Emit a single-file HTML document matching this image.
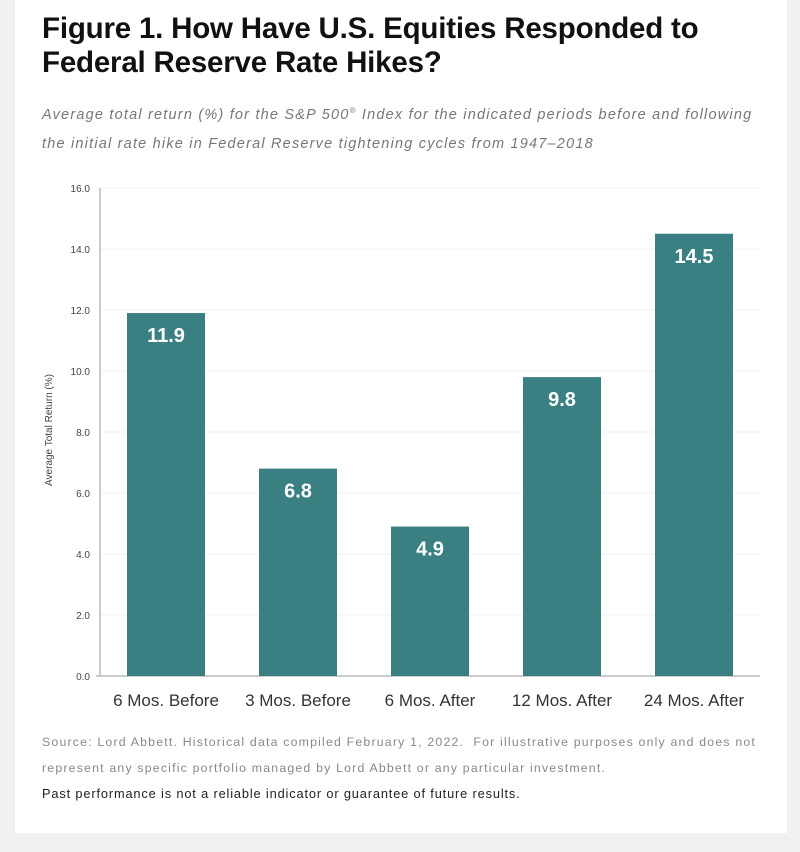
<!DOCTYPE html>
<html><head><meta charset="utf-8"><style>
body{margin:0;width:800px;height:852px;background:#f1f1f1;font-family:"Liberation Sans",sans-serif;overflow:hidden}
#card{position:absolute;left:15px;top:0;width:772px;height:833px;background:#fff}
h1{position:absolute;left:27px;top:12px;margin:0;font-size:29.5px;line-height:34px;font-weight:bold;color:#111;letter-spacing:-0.2px;white-space:nowrap}
.sub{position:absolute;left:27px;top:96px;font-size:14.5px;line-height:29px;font-style:italic;color:#777;width:745px;letter-spacing:1.2px;white-space:nowrap}
.src{position:absolute;left:27px;top:729px;font-size:12.3px;line-height:26px;color:#888;letter-spacing:1.2px;white-space:nowrap}
.src b{font-weight:normal;color:#222;font-size:12.8px;letter-spacing:0.85px}
</style></head><body>
<div id="card">
<h1>Figure 1. How Have U.S. Equities Responded to<br>Federal Reserve Rate Hikes?</h1>
<div class="sub">Average total return (%) for the S&amp;P 500<sup style="font-size:8px">®</sup> Index for the indicated periods before and following<br>the initial rate hike in Federal Reserve tightening cycles from 1947–2018</div>
<div class="src">Source: Lord Abbett. Historical data compiled February 1, 2022.&nbsp; For illustrative purposes only and does not<br>represent any specific portfolio managed by Lord Abbett or any particular investment.<br><b>Past performance is not a reliable indicator or guarantee of future results.</b></div>
</div>
<svg id="chart" width="800" height="852" style="position:absolute;left:0;top:0"></svg>
<script>
const categories=["6 Mos. Before","3 Mos. Before","6 Mos. After","12 Mos. After","24 Mos. After"];
const values=[11.9,6.8,4.9,9.8,14.5];
const ticks=[0,2,4,6,8,10,12,14,16];
const svg=document.getElementById('chart');const NS='http://www.w3.org/2000/svg';
const y0=676,y1=188,vmax=16,x0=100,x1=760;
const y=v=>y0-(v/vmax)*(y0-y1);
const band=(x1-x0)/categories.length, bw=78;
const xc=i=>x0+band*(i+0.5);
function mk(t,a,txt){const e=document.createElementNS(NS,t);for(const k in a)e.setAttribute(k,a[k]);if(txt!=null)e.textContent=txt;svg.appendChild(e);return e;}
ticks.forEach(t=>{
 if(t>0){const g=mk('line',{x1:x0,x2:x1,y1:y(t),y2:y(t),stroke:'#f2f2f2','stroke-width':1});
 
 }
 const l=mk('text',{x:x0-10,y:y(t)+4,'text-anchor':'end','font-size':10,fill:'#444'},t.toFixed(1));
 
 
});
const ax=mk('line',{x1:x0,x2:x0,y1:y1,y2:y0,stroke:'#bbb','stroke-width':1.5});


const bx=mk('line',{x1:x0-4,x2:x1,y1:y0,y2:y0,stroke:'#bbb','stroke-width':1.5});


const yt=mk('text',{transform:'translate(52,430) rotate(-90)','text-anchor':'middle','font-size':10,fill:'#444'},'Average Total Return (%)');


categories.forEach((c,i)=>{
 const r=mk('rect',{x:xc(i)-bw/2,y:y(values[i]),width:bw,height:y0-y(values[i]),fill:'#3a7f82'});
 
 
 const v=mk('text',{x:xc(i),y:y(values[i])+29,'text-anchor':'middle','font-size':20,'font-weight':'bold',fill:'#fff'},values[i].toFixed(1));
 
 
 const l=mk('text',{x:xc(i),y:706,'text-anchor':'middle','font-size':17,fill:'#333'},c);
 
 
});
</script>
</body></html>
